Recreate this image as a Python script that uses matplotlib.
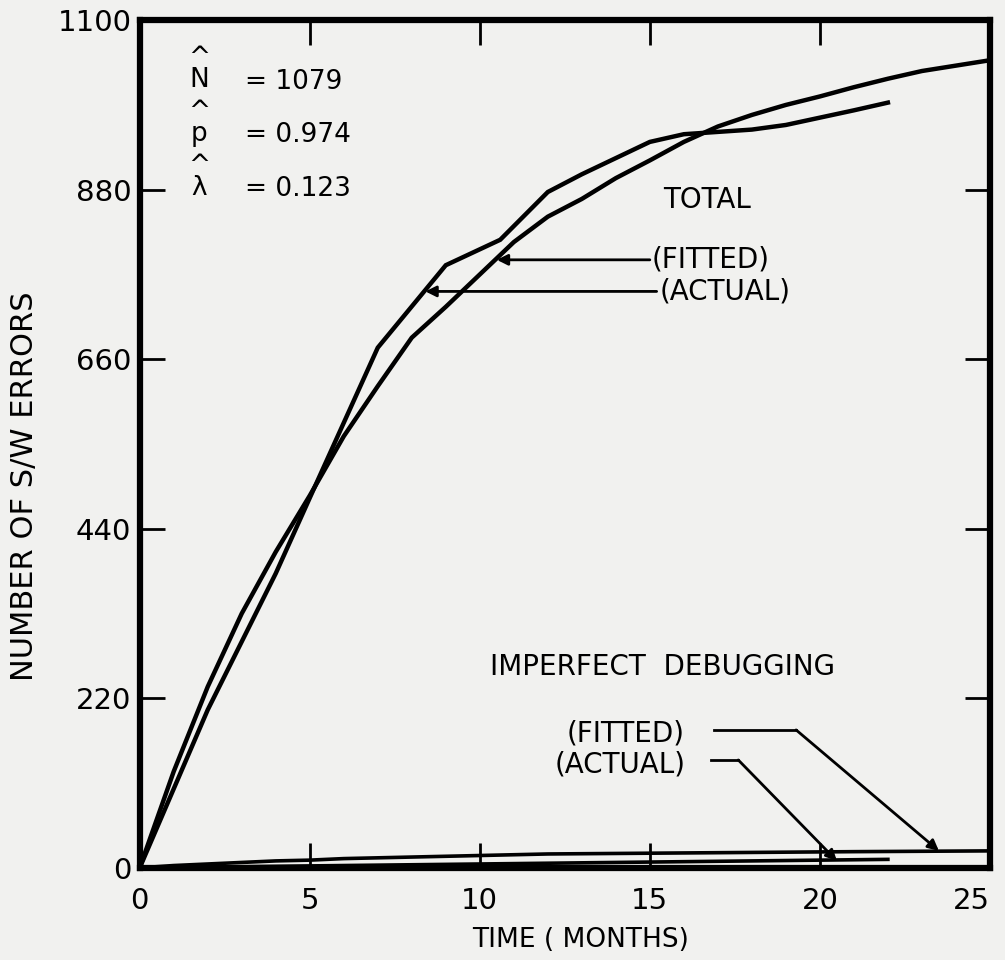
import numpy as np
import matplotlib
matplotlib.use("Agg")
import matplotlib.pyplot as plt

# total errors, actual
t_act = [0, 2, 4, 5, 7, 9, 10.6, 12, 13, 15, 16, 18, 19, 21, 22]
n_act = [0, 205, 382, 480, 675, 782, 815, 877, 900, 942, 952, 958, 964, 983, 993]

# total errors, fitted curve
t_fit = [0, 1, 2, 3, 4, 5, 6, 7, 8, 9, 10, 11, 12, 13, 14, 15, 16, 17, 18, 19, 20, 21, 22, 23, 24, 25]
n_fit = [0, 125, 235, 330, 410, 483, 560, 625, 688, 728, 770, 812, 845, 868, 895, 918, 942, 962, 977, 990, 1001, 1013, 1024, 1034, 1041, 1048]

# imperfect debugging
t_imp_fit = [0, 1, 2, 3, 4, 5, 6, 8, 10, 12, 15, 18, 21, 25]
n_imp_fit = [0, 3, 5, 7, 9, 10, 12, 14, 16, 18, 19, 20, 21, 22]
t_imp_act = [0, 2, 4, 6, 8, 10, 12, 14, 16, 18, 20, 22]
n_imp_act = [0, 1, 2, 3, 4, 5, 6, 7, 8, 9, 10, 11]

xticks = [0, 5, 10, 15, 20, 25]
yticks = [0, 220, 440, 660, 880, 1100]

bg = '#f1f1ef'
plt.rcParams['font.family'] = ['DejaVu Sans']

fig = plt.figure(figsize=(10.05, 9.6), dpi=100, facecolor=bg)
ax = fig.add_axes([0.139, 0.096, 0.846, 0.883])
ax.set_facecolor(bg)

lw = 3.2
ax.plot(t_act, n_act, color='black', lw=lw, solid_joinstyle='miter')
ax.plot(t_fit, n_fit, color='black', lw=lw)
ax.plot(t_imp_fit, n_imp_fit, color='black', lw=2.6)
ax.plot(t_imp_act, n_imp_act, color='black', lw=2.6)

ax.set_xlim(0, 25)
ax.set_ylim(0, 1100)
ax.set_xticks(xticks)
ax.set_yticks(yticks)
for s in ax.spines.values():
    s.set_linewidth(4.5)
ax.tick_params(direction='in', length=18, width=2, top=True, right=True,
               labelsize=21)
ax.tick_params(axis='x', pad=14)
ax.tick_params(axis='y', pad=6)
ax.get_xticklabels()[-1].set_horizontalalignment('right')

ax.set_xlabel('TIME ( MONTHS)', fontsize=19)
ax.xaxis.set_label_coords(0.518, -0.07)
ax.set_ylabel('NUMBER OF S/W ERRORS', fontsize=22)
ax.yaxis.set_label_coords(-0.118, 0.45)

# parameter estimates (letter with hat above)
fs = 19
params = [('N', '= 1079', 1020), ('p', '= 0.974', 951), ('λ', '= 0.123', 881)]
for sym, val, y in params:
    ax.text(1.75, y + 16, '^\n' + sym, fontsize=fs, ha='center', va='center',
            multialignment='center', linespacing=0.8)
    ax.text(3.1, y, val, fontsize=fs, ha='left', va='center')

# total labels
fs2 = 20
ax.text(15.4, 866, 'TOTAL', fontsize=fs2, ha='left', va='center')
ax.text(15.05, 789, '(FITTED)', fontsize=fs2, ha='left', va='center')
ax.text(15.3, 748, '(ACTUAL)', fontsize=fs2, ha='left', va='center')
arr = dict(arrowstyle='-|>', color='black', lw=2, mutation_scale=16, shrinkA=0, shrinkB=0)
ax.annotate('', xy=(10.5, 789), xytext=(15.0, 789), arrowprops=arr)
ax.annotate('', xy=(8.4, 748), xytext=(15.2, 748), arrowprops=arr)

# imperfect debugging labels
ax.text(10.3, 260, 'IMPERFECT  DEBUGGING', fontsize=fs2, ha='left', va='center')
ax.text(12.56, 174, '(FITTED)', fontsize=fs2, ha='left', va='center')
ax.text(12.2, 134, '(ACTUAL)', fontsize=fs2, ha='left', va='center')
ax.plot([16.9, 19.3], [179, 179], color='black', lw=2)
ax.annotate('', xy=(23.5, 22), xytext=(19.3, 179), arrowprops=arr)
ax.plot([16.8, 17.6], [140, 140], color='black', lw=2)
ax.annotate('', xy=(20.5, 9), xytext=(17.6, 140), arrowprops=arr)

fig.savefig('out.png', dpi=100, facecolor=bg)
